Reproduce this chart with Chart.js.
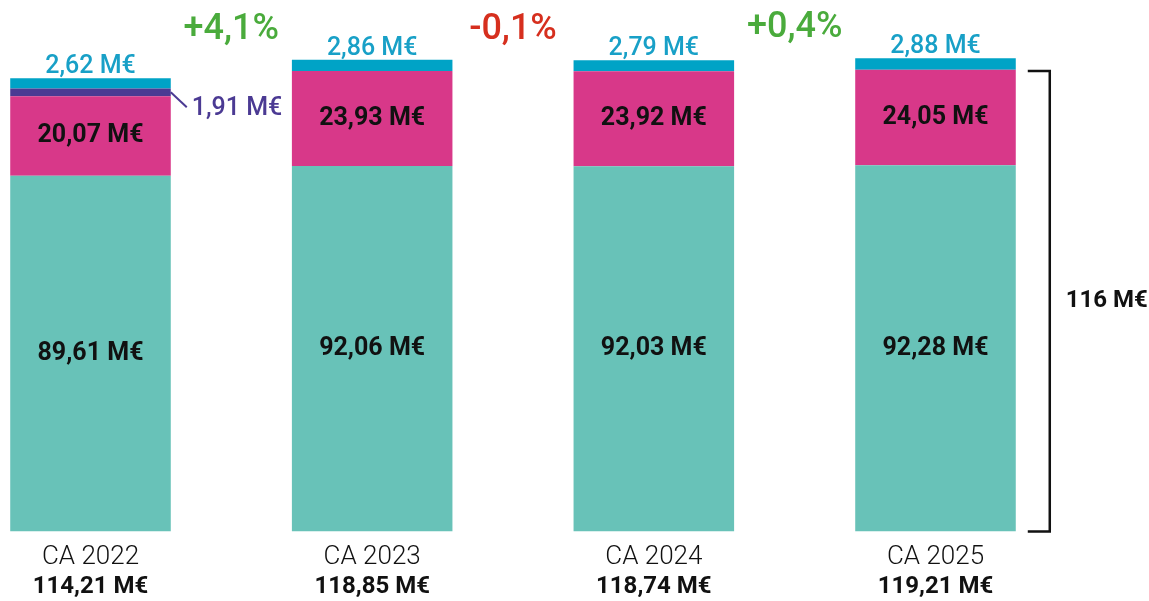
<!DOCTYPE html>
<html>
<head>
<meta charset="utf-8">
<script src="https://cdn.jsdelivr.net/npm/chart.js@4.4.1/dist/chart.umd.min.js"></script>
<style>
  html, body { margin: 0; padding: 0; background: #fff; }
  canvas { display: block; }
</style>
</head>
<body>
<canvas id="ca-chart" width="1149" height="601"></canvas>
<script>
// Chiffre d'affaires par année (M€)
const years = ["CA 2022", "CA 2023", "CA 2024", "CA 2025"];
const tealValues = [89.61, 92.06, 92.03, 92.28];
const pinkValues = [20.07, 23.93, 23.92, 24.05];
const purpleValues = [1.91, null, null, null];
const blueValues = [2.62, 2.86, 2.79, 2.88];
const totals = [114.21, 118.85, 118.74, 119.21];
const changes = [4.1, -0.1, 0.4];
const bracketValue = 116;

const FONT = "Roboto, 'Open Sans', sans-serif";

const fmt = v => v.toFixed(2).replace(".", ",") + " M€";
const pct = v => (v > 0 ? "+" : "") + v.toFixed(1).replace(".", ",") + "%";
const points = arr => arr.map((v, i) => ({ x: i, y: v }));

// x positions: year 0 centred at 90px, year 3 at 935px
const X_MIN = -0.3213;
const X_MAX = 3.758;

const labelsPlugin = {
  id: "segmentLabels",
  afterDatasetsDraw(chart) {
    const ctx = chart.ctx;
    const xs = chart.scales.x;
    const ys = chart.scales.y;
    ctx.save();

    // values inside teal and pink segments
    ctx.textAlign = "center";
    ctx.textBaseline = "middle";
    ctx.fillStyle = "#111";
    ctx.font = `700 25px ${FONT}`;
    [0, 1].forEach(di => {
      chart.getDatasetMeta(di).data.forEach((bar, i) => {
        const v = chart.data.datasets[di].data[i].y;
        ctx.fillText(fmt(v), bar.x, (bar.y + bar.base) / 2);
      });
    });

    // blue values above each bar
    ctx.textBaseline = "alphabetic";
    ctx.fillStyle = "#18a0c7";
    ctx.font = `500 25px ${FONT}`;
    chart.getDatasetMeta(3).data.forEach((bar, i) => {
      ctx.fillText(fmt(blueValues[i]), bar.x, bar.y - 5);
    });

    // purple value with leader line
    const pb = chart.getDatasetMeta(2).data[0];
    const right = pb.x + pb.width / 2;
    const mid = (pb.y + pb.base) / 2;
    ctx.strokeStyle = "#4b3a93";
    ctx.lineWidth = 2;
    ctx.beginPath();
    ctx.moveTo(right, mid);
    ctx.lineTo(right + 16, mid + 15);
    ctx.stroke();
    ctx.fillStyle = "#4b3a93";
    ctx.textAlign = "left";
    ctx.textBaseline = "middle";
    ctx.fillText(fmt(purpleValues[0]), right + 21, mid + 16);

    // year-on-year change
    ctx.textAlign = "center";
    ctx.font = `500 36px ${FONT}`;
    changes.forEach((c, i) => {
      ctx.fillStyle = c >= 0 ? "#4aab3c" : "#d62f1e";
      const yTop = ys.getPixelForValue(Math.max(totals[i], totals[i + 1]));
      ctx.fillText(pct(c), xs.getPixelForValue(i + 0.5), yTop - 30);
    });

    // bracket on the right
    const last = chart.getDatasetMeta(0).data[years.length - 1];
    const bx = last.x + last.width / 2 + 12;
    const y1 = ys.getPixelForValue(bracketValue);
    const y0 = ys.getPixelForValue(0);
    ctx.strokeStyle = "#111";
    ctx.lineWidth = 2.5;
    ctx.beginPath();
    ctx.moveTo(bx, y1);
    ctx.lineTo(bx + 22, y1);
    ctx.lineTo(bx + 22, y0);
    ctx.lineTo(bx, y0);
    ctx.stroke();
    ctx.fillStyle = "#111";
    ctx.font = `700 24px ${FONT}`;
    ctx.fillText(bracketValue + " M€", bx + 79, (y0 + y1) / 2);

    ctx.restore();
  }
};

const oneTickPerYear = s => { s.ticks = years.map((_, i) => ({ value: i })); };
// keep the plot full width and the two label rows at fixed heights
const fixFit = h => s => { s.height = h; s.paddingLeft = 0; s.paddingRight = 0; };

new Chart(document.getElementById("ca-chart"), {
  type: "bar",
  data: {
    datasets: [
      { data: points(tealValues), backgroundColor: "#68c2b8" },
      { data: points(pinkValues), backgroundColor: "#d83889" },
      { data: points(purpleValues), backgroundColor: "#4b3a93" },
      { data: points(blueValues), backgroundColor: "#00a3c6" }
    ].map(d => Object.assign(d, { categoryPercentage: 1, barPercentage: 0.57, borderWidth: 0 }))
  },
  options: {
    responsive: false,
    animation: false,
    devicePixelRatio: 1,
    events: [],
    layout: { padding: { top: 15.5, left: 0, right: 0, bottom: 0 } },
    plugins: { legend: { display: false }, tooltip: { enabled: false } },
    scales: {
      x: {
        type: "linear", min: X_MIN, max: X_MAX, offset: false, stacked: true, weight: 0,
        grid: { display: false, drawTicks: false }, border: { display: false },
        afterBuildTicks: oneTickPerYear,
        afterFit: fixFit(41),
        ticks: {
          padding: 10, maxRotation: 0, autoSkip: false, color: "#111",
          font: { family: FONT, size: 26, weight: 300, lineHeight: 1.2 },
          callback: v => years[v]
        }
      },
      x2: {
        type: "linear", position: "bottom", min: X_MIN, max: X_MAX, offset: false, weight: 1,
        grid: { display: false, drawTicks: false }, border: { display: false },
        afterBuildTicks: oneTickPerYear,
        afterFit: fixFit(28.6),
        ticks: {
          padding: 0, maxRotation: 0, autoSkip: false, color: "#111",
          font: { family: FONT, size: 24, weight: 700, lineHeight: 1.2 },
          callback: v => fmt(totals[v])
        }
      },
      y: { display: false, stacked: true, min: 0, max: 130 }
    }
  },
  plugins: [labelsPlugin]
});
</script>
</body>
</html>
